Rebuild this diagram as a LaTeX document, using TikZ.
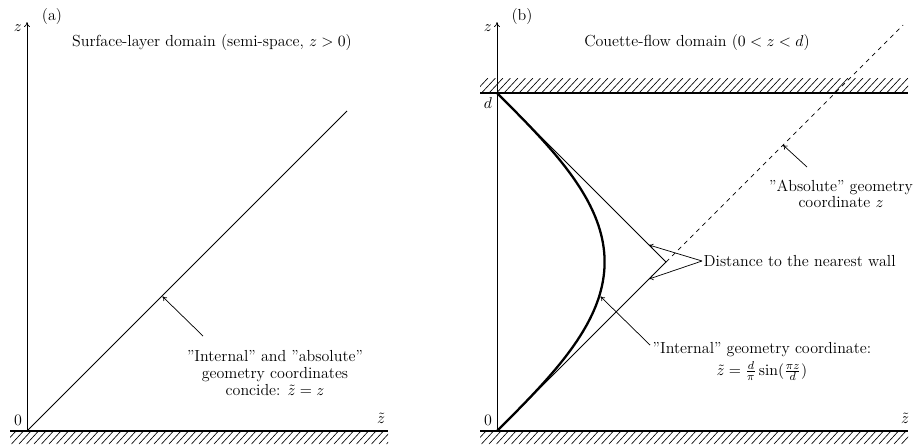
\documentclass[tikz,border=0pt]{standalone}
\usepackage{amsmath}
\usetikzlibrary{positioning,calc,arrows.meta}

\begin{document}
\begin{tikzpicture}[x=0.7pt, y=-0.7pt, font=\fontsize{11.2}{11.6}\selectfont,
          wall/.style={line width=1.8pt},
          hatch/.style={line width=0.45pt},
          axis/.style={-{To[length=3.5pt,width=4pt]}, line width=0.45pt},
          ray/.style={line width=0.7pt},
          pointer/.style={-{To[length=3pt,width=3.5pt]}, line width=0.5pt},
          note/.style={align=center, inner sep=1pt}]
        \useasboundingbox (0,0) rectangle (919,444);
        % (a) surface layer
        \node (a-tag) at (52,17) {(a)};
        \node (a-title) at (212,43) {Surface-layer domain (semi-space, $z>0$)};
        \coordinate (a-o) at (27,431);
        \coordinate (a-top) at (27,22);
        \coordinate (a-end) at (347,111);
        \begin{scope}
          \clip (10,431) rectangle (388,444);
          \foreach \hx in {4,11.5,...,392} \draw[hatch] (\hx,444) -- (\hx+12,431);
        \end{scope}
        \draw[wall] (10,431) -- (388,431);
        \draw[axis] (a-o) -- (a-top) node[left=0pt, pos=0.985] (a-z) {$z$};
        \draw[ray] (a-o) -- (a-end);
        \node[above left=0pt and 0pt of a-o] (a-zero) {0};
        \node (a-zt) at (381,418) {$\tilde z$};
        \node[note] (a-note) at (275,373) {''Internal'' and ''absolute''\\geometry coordinates\\concide: $\tilde z = z$};
        \coordinate (a-tip) at (162.5,296.5);
        \coordinate (a-tail) at (203,336);
        \draw[pointer] (a-tail) -- (a-tip);
        % (b) Couette flow
        \node (b-tag) at (522,17) {(b)};
        \node (b-title) at (697,43) {Couette-flow domain ($0<z<d$)};
        \coordinate (b-o) at (497,431);
        \coordinate (b-d) at (497,93);
        \coordinate (b-top) at (497,22);
        \coordinate (apex) at (666,262);
        \coordinate (b-end) at (903,25);
        \begin{scope}
          \clip (480,431) rectangle (908,444);
          \foreach \hx in {474,481.5,...,912} \draw[hatch] (\hx,444) -- (\hx+12,431);
        \end{scope}
        \begin{scope}
          \clip (480,78) rectangle (908,93);
          \foreach \hx in {474,481.5,...,912} \draw[hatch] (\hx,93) -- (\hx+14,78);
        \end{scope}
        \draw[wall] (480,93) -- (908,93);
        \draw[wall] (480,431) -- (908,431);
        \draw[axis] (b-o) -- (b-top) node[left=0pt, pos=0.985] (b-z) {$z$};
        \draw[ray] (b-o) -- (apex) -- (b-d);
        \draw[ray, dashed, line width=0.5pt] (apex) -- (b-end);
        \draw[line width=1.6pt] plot[domain=0:1, samples=80, smooth]
          ({497+107.6*sin(180*\x)}, {431-338*\x});
        \node[above left=0pt and 0pt of b-o] (b-zero) {0};
        \node[below left=0pt and 0pt of b-d] (b-dl) {$d$};
        \node (b-zt) at (905,418) {$\tilde z$};
        % labels and pointers
        \node[note] (abs) at (841,194) {''Absolute'' geometry\\coordinate $z$};
        \coordinate (abs-tip) at (783,145);
        \coordinate (abs-tail) at (807,167);
        \draw[pointer] (abs-tail) -- (abs-tip);
        \node[anchor=west, inner sep=1pt] (dist) at (702,261) {Distance to the nearest wall};
        \coordinate (dist-up) at (649,245);
        \coordinate (dist-dn) at (649,279);
        \draw[pointer] (dist.west) -- (dist-up);
        \draw[pointer] (dist.west) -- (dist-dn);
        \node[note, anchor=north west] (int) at (651,341) {''Internal'' geometry coordinate:\\[2pt]$\tilde z = \frac{d}{\pi}\sin(\frac{\pi z}{d})$};
        \coordinate (int-tip) at (600.5,296.5);
        \coordinate (int-tail) at (650,345);
        \draw[pointer] (int-tail) -- (int-tip);
\end{tikzpicture}
\end{document}
